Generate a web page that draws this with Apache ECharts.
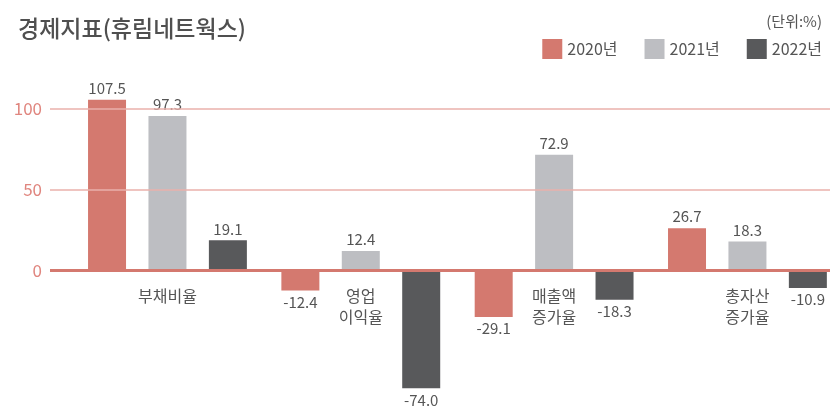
<!DOCTYPE html>
<html>
<head>
<meta charset="utf-8">
<script src="https://cdn.jsdelivr.net/npm/echarts@6/dist/echarts.min.js"></script>
<style>
html,body{margin:0;padding:0;background:#fff;}
#chart{width:831px;height:406px;}
</style>
</head>
<body>
<div id="chart"></div>
<script>
// 데이터
var categories = ['부채비율', '영업\n이익율', '매출액\n증가율', '총자산\n증가율'];
var years = ['2020년', '2021년', '2022년'];
var data2020 = [107.5, -12.4, -29.1, 26.7];
var data2021 = [97.3, 12.4, 72.9, 18.3];
var data2022 = [19.1, -74.0, -18.3, -10.9];
var gridValues = [0, 50, 100];

var colors = ['#d4796f', '#bdbec2', '#58595b'];
var font = '"Noto Sans CJK KR", "Noto Sans", sans-serif';

var yMin = -80, yMax = 120;
// 눈금선 grid / 막대 grid (0선은 둘 다 y=270.7)
var lineTop = 75.8, lineBottom = 5.4;
var barTop = 79.9, barBottom = 8.1;
// x축 라벨을 0 기준선 아래로 올림
var zeroOffset = -(406 - barBottom - barTop) * (0 - yMin) / (yMax - yMin);

var myChart = echarts.init(document.getElementById('chart'));

function barSeries(name, values, color) {
	return {
		name: name,
		type: 'bar',
		xAxisIndex: 1,
		yAxisIndex: 1,
		barWidth: 38,
		barGap: '59%',
		z: 2,
		itemStyle: { color: color },
		label: {
			show: true,
			position: 'outside',
			distance: 4,
			color: '#555',
			fontSize: 15,
			fontFamily: font,
			formatter: function (p) { return p.value.toFixed(1); }
		},
		data: values
	};
}

var option = {
	animation: false,
	title: [{
		text: '경제지표(휴림네트웍스)',
		left: 13,
		top: 12,
		textStyle: { color: '#4f4f4f', fontSize: 23, fontWeight: 500, fontFamily: font }
	}, {
		text: '(단위:%)',
		right: 4,
		top: 9,
		textStyle: { color: '#555', fontSize: 15, fontWeight: 'normal', fontFamily: font }
	}],
	legend: {
		data: years,
		right: 4,
		top: 34,
		itemWidth: 20,
		itemHeight: 20,
		itemGap: 27,
		icon: 'rect',
		textStyle: { color: '#555', fontSize: 16, fontFamily: font }
	},
	grid: [
		// 눈금선용
		{ left: 50, right: 1, top: lineTop, bottom: lineBottom, outerBoundsMode: 'none', containLabel: false },
		// 막대용
		{ left: 70.8, width: 773.3, top: barTop, bottom: barBottom, outerBoundsMode: 'none', containLabel: false }
	],
	xAxis: [{
		type: 'category',
		gridIndex: 0,
		data: categories,
		show: false
	}, {
		type: 'category',
		gridIndex: 1,
		data: categories,
		position: 'bottom',
		offset: zeroOffset,
		axisLine: { show: false, onZero: false },
		axisTick: { show: false },
		axisLabel: {
			margin: 15,
			color: '#555',
			fontSize: 16,
			lineHeight: 21,
			fontFamily: font
		}
	}],
	yAxis: [{
		type: 'value',
		gridIndex: 0,
		min: yMin,
		max: yMax,
		show: false
	}, {
		type: 'value',
		gridIndex: 1,
		min: yMin,
		max: yMax,
		show: false
	}],
	series: [
		barSeries(years[0], data2020, colors[0]),
		barSeries(years[1], data2021, colors[1]),
		barSeries(years[2], data2022, colors[2]),
		{
			type: 'line',
			xAxisIndex: 0,
			yAxisIndex: 0,
			data: [null, null, null, null],
			showSymbol: false,
			silent: true,
			z: 5,
			markLine: {
				silent: true,
				symbol: 'none',
				label: {
					show: true,
					position: 'start',
					distance: 8,
					color: '#e0867f',
					fontSize: 17,
					fontFamily: font,
					formatter: '{c}'
				},
				data: gridValues.map(function (v) {
					return {
						yAxis: v,
						lineStyle: v === 0
							? { color: '#d4796f', width: 3, type: 'solid' }
							: { color: '#eab0ab', width: 1.5, type: 'solid' }
					};
				})
			}
		}
	]
};
myChart.setOption(option);
</script>
</body>
</html>
